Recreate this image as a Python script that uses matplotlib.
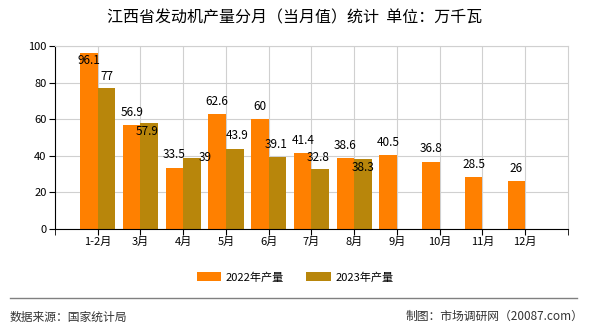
import numpy as np
import matplotlib.pyplot as plt

plt.rcParams['font.family'] = ['Noto Sans CJK SC', 'DejaVu Sans']

months = ["1-2月", "3月", "4月", "5月", "6月", "7月", "8月", "9月", "10月", "11月", "12月"]
v2022 = [96.1, 56.9, 33.5, 62.6, 60, 41.4, 38.6, 40.5, 36.8, 28.5, 26]
v2023 = [77, 57.9, 39, 43.9, 39.1, 32.8, 38.3]

# label offsets (dx in category units, dy in value units)
off2022 = [(0, -4)] + [(0, 7)] * 10
off2023 = [(0, 6.6), (-0.05, -4.4), (0.3, 0), (0.05, 7), (-0.03, 7), (-0.05, 6.4), (0, -4.6)]

c22 = "#ff8000"
c23 = "#b8860b"
w = 0.41

fig = plt.figure(figsize=(5.9, 3.3), dpi=100)
ax = fig.add_axes([0.0932, 0.306, 0.8695, 0.5546])

x = np.arange(1, len(months) + 1)
ax.bar(x - w / 2, v2022, w, color=c22, label="2022年产量", zorder=2)
x23 = x[:len(v2023)]
ax.bar(x23 + w / 2, v2023, w, color=c23, label="2023年产量", zorder=2)

for xi, v, (dx, dy) in zip(x, v2022, off2022):
    ax.text(xi - w / 2 + dx, v + dy, f"{v:g}", ha="center", va="center", fontsize=8.5, zorder=3)
for xi, v, (dx, dy) in zip(x23, v2023, off2023):
    ax.text(xi + w / 2 + dx, v + dy, f"{v:g}", ha="center", va="center", fontsize=8.5, zorder=3)

ax.set_xlim(0, 12)
ax.set_ylim(0, 100)
ax.set_yticks(range(0, 101, 20))
ax.set_xticks(x)
ax.set_xticklabels(months, fontsize=8)
ax.set_xticks(np.arange(0, 13), minor=True)
ax.tick_params(axis="x", which="minor", length=4, color="black")
ax.tick_params(axis="x", which="major", length=4, pad=2)
ax.tick_params(axis="y", labelsize=8, length=4, pad=2)
ax.grid(True, color="#d0d0d0", linewidth=0.8, zorder=0)
ax.set_axisbelow(True)
for s in ["top", "right"]:
    ax.spines[s].set_color("#d0d0d0")
ax.spines["left"].set_color("black")
ax.spines["bottom"].set_color("black")

fig.text(0.5, 0.945, "江西省发动机产量分月（当月值）统计  单位：万千瓦", ha="center", va="center", fontsize=11.5)

fig.legend(loc="center", bbox_to_anchor=(0.5, 0.16), ncol=2, frameon=False, fontsize=8,
           handlelength=2.2, handleheight=0.8, columnspacing=2, handletextpad=0.4)

fig.add_artist(plt.Line2D([0.017, 0.978], [0.097, 0.097], color="gray", linewidth=1))
fig.text(0.017, 0.04, "数据来源：国家统计局", ha="left", va="center", fontsize=8.5, color="#333333")
fig.text(0.988, 0.04, "制图：市场调研网（20087.com）", ha="right", va="center", fontsize=8.5, color="#333333")

fig.savefig("out.png", dpi=100)
